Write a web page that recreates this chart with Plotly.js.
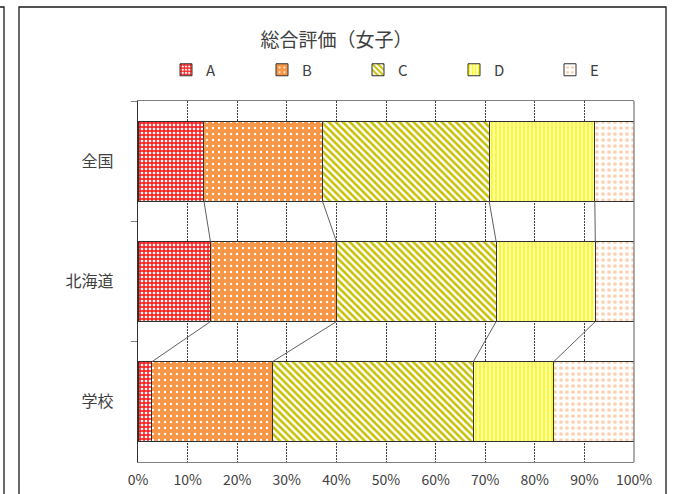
<!DOCTYPE html>
<html>
<head>
<meta charset="utf-8">
<script src="https://cdn.plot.ly/plotly-3.0.1.min.js"></script>
<style>html,body{margin:0;padding:0;background:#fff;}#chart{width:673px;height:494px;}</style>
</head>
<body>
<div id="chart"></div>
<script>
// ---- data ----
var categories = ["全国", "北海道", "学校"];
var seriesNames = ["A", "B", "C", "D", "E"];
var valuesA = [13.3, 14.6, 2.8];
var valuesB = [23.9, 25.4, 24.3];
var valuesC = [33.6, 32.2, 40.5];
var valuesD = [21.3, 20.0, 16.2];
var valuesE = [7.9, 7.8, 16.2];
var xTickVals = [0, 10, 20, 30, 40, 50, 60, 70, 80, 90, 100];
var xTickLabels = ["0%", "10%", "20%", "30%", "40%", "50%", "60%", "70%", "80%", "90%", "100%"];
var chartTitle = "総合評価（女子）";

var allValues = [valuesA, valuesB, valuesC, valuesD, valuesE];

var patterns = [
  {shape: "+", fgcolor: "#FF1010", bgcolor: "#FFFFFF", size: 4, solidity: 0.6, fillmode: "replace"},
  {shape: ".", fgcolor: "#FFFFFF", bgcolor: "#F79646", size: 6, solidity: 0.12, fillmode: "replace"},
  {shape: "\\", fgcolor: "#C8C000", bgcolor: "#FFFFFF", size: 5, solidity: 0.5, fillmode: "replace"},
  {shape: "|", fgcolor: "#FFFF00", bgcolor: "#FFFFFF", size: 4, solidity: 0.55, fillmode: "replace"},
  {shape: ".", fgcolor: "#FCD0B0", bgcolor: "#FFFFFF", size: 6, solidity: 0.3, fillmode: "replace"}
];
var fillColors = ["#FF6060", "#F79646", "#D8D040", "#FFFF60", "#FCD5B5"];

var font = "'Noto Sans CJK JP', 'DejaVu Sans', sans-serif";
var bargap = 1/3;

var traces = [];
for (var s = 0; s < seriesNames.length; s++) {
  traces.push({
    type: "bar",
    orientation: "h",
    name: seriesNames[s],
    y: categories,
    x: allValues[s],
    marker: {
      color: fillColors[s],
      pattern: patterns[s],
      line: {color: "#303030", width: 1}
    },
    hoverinfo: "x+name"
  });
}

// series lines connecting the bar edges
var half = (1 - bargap) / 2;
var lx = [], ly = [];
for (var k = 0; k < 4; k++) {
  for (var i = 0; i < categories.length - 1; i++) {
    var c1 = 0, c2 = 0;
    for (var j = 0; j <= k; j++) { c1 += allValues[j][i]; c2 += allValues[j][i + 1]; }
    lx.push(c1, c2, null);
    ly.push(i + half, i + 1 - half, null);
  }
}
traces.push({
  type: "scatter", mode: "lines", x: lx, y: ly, yaxis: "y2",
  line: {color: "#606060", width: 1}, showlegend: false, hoverinfo: "skip"
});

var L = 138, R = 673 - 634, T = 101, B = 494 - 462;
var pw = 673 - L - R, ph = 494 - T - B;
function px(x) { return (x - L) / pw; }
function py(y) { return (494 - B - y) / ph; }

var layout = {
  width: 673, height: 494,
  margin: {l: L, r: R, t: T, b: B, pad: 0},
  paper_bgcolor: "#FFFFFF", plot_bgcolor: "#FFFFFF",
  barmode: "stack",
  bargap: bargap,
  font: {family: font, color: "#404040", size: 13},
  title: {
    text: chartTitle, font: {family: font, size: 19, color: "#404040"},
    xref: "container", x: 0.5, xanchor: "center",
    yref: "container", y: 1 - 40 / 494, yanchor: "middle"
  },
  showlegend: true,
  legend: {
    orientation: "h", x: px(166), xanchor: "left", y: py(70), yanchor: "middle",
    font: {family: font, size: 15, color: "#404040"},
    entrywidth: 51, entrywidthmode: "pixels", traceorder: "normal",
    bgcolor: "rgba(0,0,0,0)"
  },
  xaxis: {
    range: [0, 100], tickvals: xTickVals, ticktext: xTickLabels,
    showgrid: true, gridcolor: "#404040", griddash: "2px,1px", gridwidth: 1,
    zeroline: false, showline: true, linecolor: "#808080", linewidth: 1.3, mirror: true,
    ticks: "", tickfont: {family: font, size: 14, color: "#404040"},
    ticklabelstandoff: 5, fixedrange: true
  },
  yaxis: {
    type: "category", categoryorder: "array", categoryarray: categories,
    range: [2.5, -0.5], showgrid: false, zeroline: false,
    showline: true, linecolor: "#303030", linewidth: 1.3,
    ticks: "outside", tickson: "boundaries", ticklen: 6, tickcolor: "#808080",
    tickfont: {family: font, size: 16, color: "#404040"},
    ticklabelstandoff: 20, fixedrange: true
  },
  yaxis2: {overlaying: "y", range: [2.5, -0.5], visible: false, fixedrange: true},
  shapes: [
    {type: "line", xref: "paper", yref: "paper", x0: 1, x1: 1, y0: 0, y1: 1,
     line: {color: "#808080", width: 1.3}},
    {type: "path", xref: "paper", yref: "paper",
     path: "M " + px(19) + " " + py(520) + " L " + px(19) + " " + py(7) + " L " + px(666) + " " + py(7) + " L " + px(666) + " " + py(520),
     line: {color: "#1A1A1A", width: 1.3}},
    {type: "path", xref: "paper", yref: "paper",
     path: "M " + px(-5) + " " + py(7) + " L " + px(4) + " " + py(7) + " L " + px(4) + " " + py(520),
     line: {color: "#1A1A1A", width: 1.3}}
  ]
};

Plotly.newPlot("chart", traces, layout, {displayModeBar: false, staticPlot: true});
</script>
</body>
</html>
